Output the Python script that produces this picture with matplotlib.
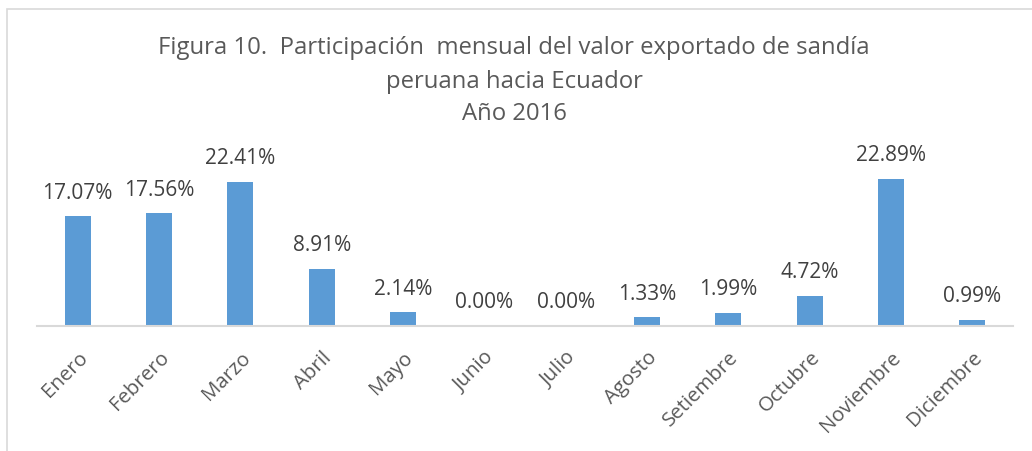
import matplotlib
matplotlib.use("Agg")
import matplotlib.pyplot as plt
from matplotlib.patches import Rectangle

months = ["Enero", "Febrero", "Marzo", "Abril", "Mayo", "Junio", "Julio",
          "Agosto", "Setiembre", "Octubre", "Noviembre", "Diciembre"]
shares = [17.07, 17.56, 22.41, 8.91, 2.14, 0.00, 0.00, 1.33, 1.99, 4.72, 22.89, 0.99]
title_lines = ["Figura 10.  Participación  mensual del valor exportado de sandía",
               "peruana hacia Ecuador",
               "Año 2016"]

plt.rcParams['font.family'] = ['Open Sans', 'DejaVu Sans']

W, H = 1032, 452
fig = plt.figure(figsize=(W / 100, H / 100), dpi=100)
fig.patch.set_facecolor("white")

# chart border
fig.add_artist(Rectangle((7 / W, -0.1), 1.2, (H - 10) / H + 0.1, transform=fig.transFigure,
                         fill=False, edgecolor="#d9d9d9", linewidth=1.2))

ax = fig.add_axes([37 / W, 1 - 327 / H, (1013 - 37) / W, (327 - 166.5) / H])
x = range(len(months))
bars = ax.bar(x, shares, width=0.32, color="#5B9BD5", zorder=2)
ax.set_xlim(-0.5, len(months) - 0.5)
ax.set_ylim(0, 25)
for s in ["top", "right", "left"]:
    ax.spines[s].set_visible(False)
ax.spines["bottom"].set_color("#d9d9d9")
ax.spines["bottom"].set_linewidth(1.5)
ax.set_yticks([])
ax.set_xticks(list(x))
ax.set_xticklabels(months, rotation=45, ha="right", rotation_mode="anchor",
                   fontsize=14.7, color="#595959")
ax.tick_params(axis="x", length=0, pad=15)

for xi, v in zip(x, shares):
    ax.annotate(f"{v:.2f}%", (xi, v), xytext=(0, 13.5), textcoords="offset points",
                ha="center", va="baseline", fontsize=15, color="#404040",
                annotation_clip=False)

for i, line in enumerate(title_lines):
    fig.text(514 / W, 1 - (48.5 + 33 * i) / H, line, ha="center", va="center",
             fontsize=17.2, color="#595959")

fig.savefig("out.png", dpi=100)
